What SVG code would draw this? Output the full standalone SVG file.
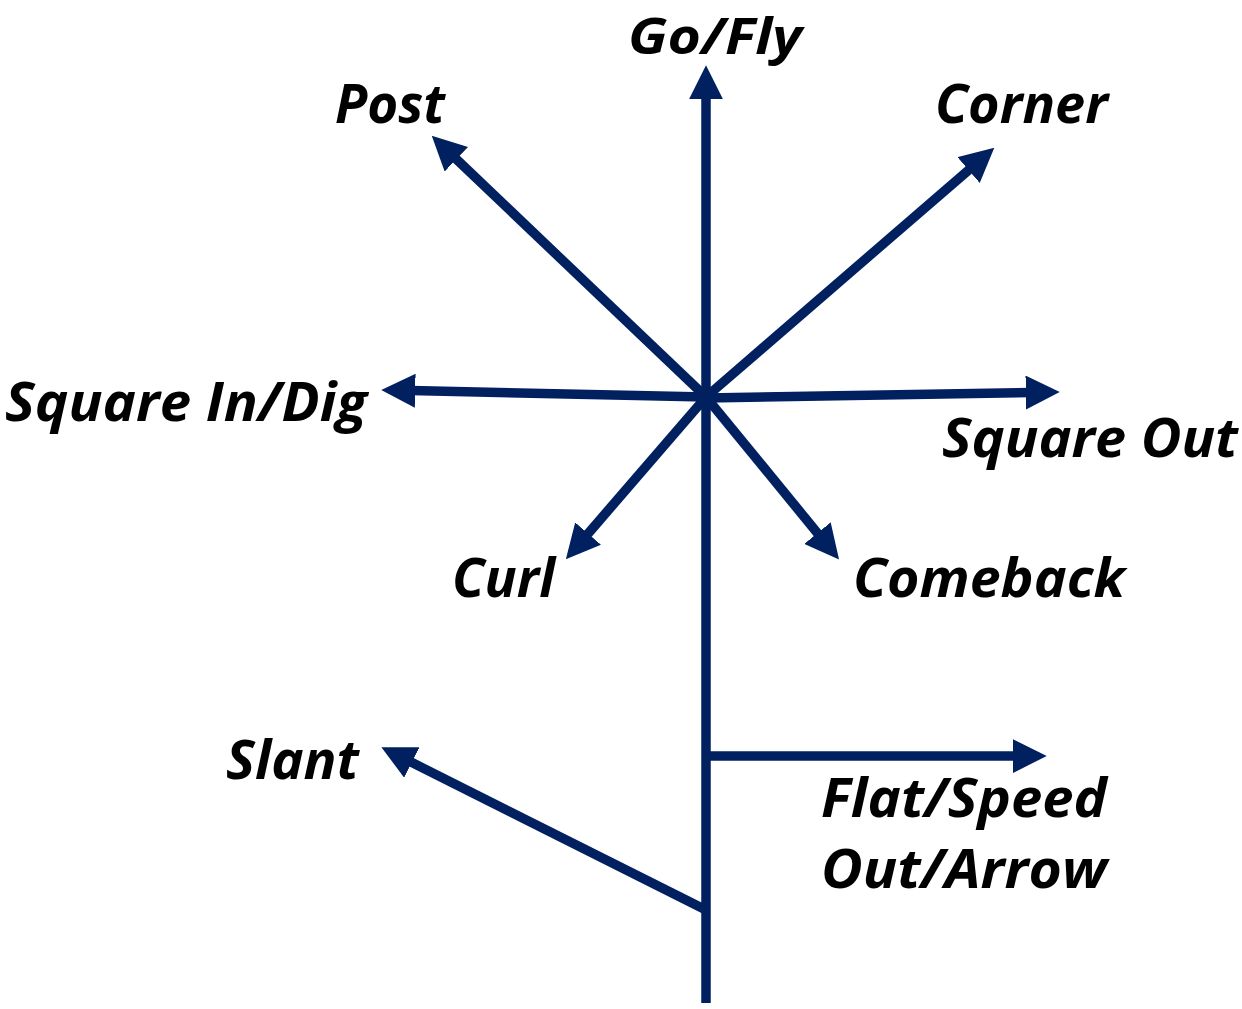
<svg xmlns="http://www.w3.org/2000/svg" width="1242" height="1009" viewBox="0 0 1242 1009">
<style>
.c{stroke:#002060;stroke-width:9.5;fill:none;marker-end:url(#ah)}
text{font-family:"Open Sans","Noto Sans","Liberation Sans",sans-serif;font-weight:bold;font-style:italic;font-size:54px;fill:#000}
</style>
<defs>
<marker id="ah" markerUnits="userSpaceOnUse" markerWidth="34" markerHeight="34" viewBox="0 0 32 32" refX="4" refY="16" orient="auto">
<path d="M0,0 L32,16 L0,32 Z" fill="#002060"/>
</marker>
</defs>
<rect width="1242" height="1009" fill="#fff"/>
<g id="connectors">
<line class="c" x1="706" y1="1003" x2="706" y2="95"/>
<line class="c" x1="706" y1="397" x2="453.3" y2="156.3"/>
<line class="c" x1="706" y1="397" x2="971.8" y2="167.3"/>
<line class="c" x1="706" y1="397" x2="411" y2="390.6"/>
<line class="c" x1="706" y1="398" x2="1030" y2="392.5"/>
<line class="c" x1="706" y1="397" x2="585.3" y2="536.8"/>
<line class="c" x1="706" y1="397" x2="820.2" y2="536.4"/>
<line class="c" x1="706" y1="910" x2="408" y2="760.6"/>
<line class="c" x1="706" y1="756" x2="1017" y2="756"/>
</g>
<g id="go-fly"><text x="628" y="54" style="font-size:50px" textLength="174" lengthAdjust="spacingAndGlyphs">Go/Fly</text></g>
<g id="post"><text x="335" y="123" textLength="110" lengthAdjust="spacingAndGlyphs">Post</text></g>
<g id="corner"><text x="935" y="123" textLength="173" lengthAdjust="spacingAndGlyphs">Corner</text></g>
<g id="square-in-dig"><text x="5" y="421" textLength="362" lengthAdjust="spacingAndGlyphs">Square In/Dig</text></g>
<g id="square-out"><text x="942" y="457" textLength="296" lengthAdjust="spacingAndGlyphs">Square Out</text></g>
<g id="curl"><text x="452" y="597" textLength="103" lengthAdjust="spacingAndGlyphs">Curl</text></g>
<g id="comeback"><text x="853" y="597" textLength="272" lengthAdjust="spacingAndGlyphs">Comeback</text></g>
<g id="slant"><text x="226" y="779" textLength="133" lengthAdjust="spacingAndGlyphs">Slant</text></g>
<g id="flat-speed"><text x="821" y="817" textLength="286" lengthAdjust="spacingAndGlyphs">Flat/Speed</text><text x="821" y="888" textLength="286" lengthAdjust="spacingAndGlyphs">Out/Arrow</text></g>
</svg>
